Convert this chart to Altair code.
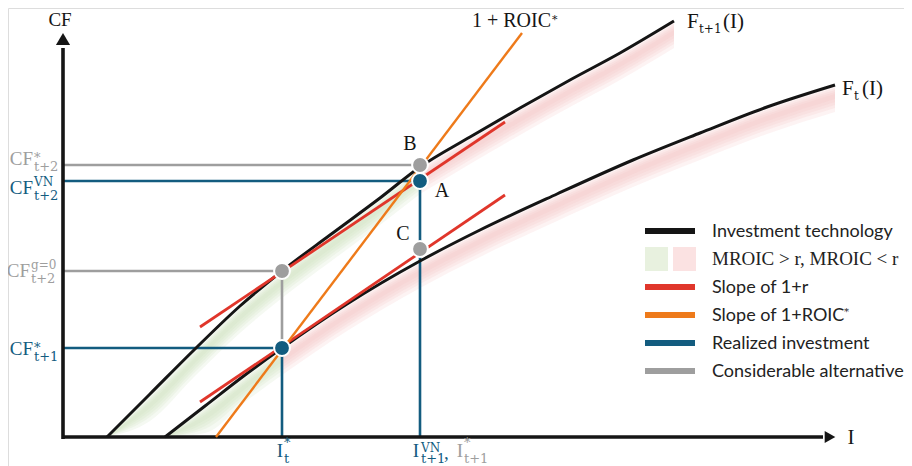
import altair as alt
import pandas as pd

# ---------------- data (I, CF), origin at the axes corner -------------
# investment technology F_{t+1}(I)
F_NEXT_I = [44, 87, 132, 177, 219, 267, 317, 357, 407, 457, 507, 557, 611]
F_NEXT_CF = [0, 43, 88, 131, 166, 202, 239, 270, 300, 329, 357, 384, 416]
# investment technology F_t(I)
F_NOW_I = [102, 142, 182, 219, 284, 357, 417, 494, 570, 637, 704, 772]
F_NOW_CF = [0, 31, 62, 89, 133, 176, 207, 243, 277, 304, 330, 352]

I_T = 219          # I*_t
I_T1 = 357         # I^VN_{t+1}, I*_{t+1}
CF_T1 = 89         # CF*_{t+1}
CF_G0 = 166        # CF^{g=0}_{t+2}
CF_VN = 256        # CF^VN_{t+2}
CF_STAR = 272      # CF*_{t+2}
CF_C = 188         # point C

# slope of 1+r (two lines) and slope of 1+ROIC*
R_UP_I, R_UP_CF = [137, 442], [110, 315]
R_LO_I, R_LO_CF = [137, 442], [35, 242]
ROIC_I, ROIC_CF = [153, 459], [0, 404]

AX_X_END, AX_Y_END = 760, 389

LEGEND_ITEMS = ["Investment technology", "MROIC > r, MROIC < r", "Slope of 1+r",
                "Slope of 1+ROIC", "Realized investment", "Considerable alternative"]

# ---------------- styles ----------------
BLACK = "#151515"
RED = "#e0362b"
ORANGE = "#ee7a1a"
BLUE = "#135c7f"
GRAY = "#9e9e9e"
GREEN_BAND = "#cfe2bc"
PINK_BAND = "#f4c4c4"
SERIF = "Liberation Serif"
SMALL = "DejaVu Serif"
SANS = "Lato"

X = alt.X("I:Q", scale=alt.Scale(domain=[-55, 841], nice=False, zero=False), axis=None)
Y = alt.Y("CF:Q", scale=alt.Scale(domain=[-29, 429], nice=False, zero=False), axis=None)


def seg(i1, cf1, i2, cf2, color, w):
    df = pd.DataFrame({"I": [i1], "CF": [cf1], "I2": [i2], "CF2": [cf2]})
    return alt.Chart(df).mark_rule(color=color, strokeWidth=w, strokeCap="butt").encode(
        x=X, y=Y, x2=alt.X2("I2"), y2=alt.Y2("CF2"))


def curve(xs, ys, color, w):
    df = pd.DataFrame({"I": xs, "CF": ys})
    return alt.Chart(df).mark_line(color=color, strokeWidth=w, interpolate="monotone").encode(x=X, y=Y)


def band(xs, ys, color, a, b, op):
    df = pd.DataFrame({"I": xs, "CF": [max(v - a, 0) for v in ys],
                       "CF2": [max(v - b, 0) for v in ys]})
    return alt.Chart(df).mark_area(color=color, opacity=op, interpolate="monotone").encode(
        x=X, y=Y, y2=alt.Y2("CF2"))


def txt(i, cf, s, size, color, font=SERIF, align="left"):
    df = pd.DataFrame({"I": [i], "CF": [cf]})
    return alt.Chart(df).mark_text(text=s, fontSize=size, color=color, font=font,
                                   align=align, baseline="alphabetic").encode(x=X, y=Y)


def dot(i, cf, color):
    df = pd.DataFrame({"I": [i], "CF": [cf]})
    return alt.Chart(df).mark_circle(size=250, fill=color, stroke="white", strokeWidth=2,
                                     opacity=1, fillOpacity=1).encode(x=X, y=Y)


layers = []

# shaded bands (MROIC > r green, MROIC < r pink), soft edges by nesting
k1 = F_NEXT_I.index(I_T1)
k0 = F_NOW_I.index(I_T)
for xs, ys, col in [(F_NEXT_I[:k1 + 1], F_NEXT_CF[:k1 + 1], GREEN_BAND),
                    (F_NEXT_I[k1:], F_NEXT_CF[k1:], PINK_BAND),
                    (F_NOW_I[:k0 + 1], F_NOW_CF[:k0 + 1], GREEN_BAND),
                    (F_NOW_I[k0:], F_NOW_CF[k0:], PINK_BAND)]:
    for a, b in [(1, 27), (3, 23), (5, 20), (7, 17), (9, 14)]:
        layers.append(band(xs, ys, col, a, b, 0.2))

# guide lines
layers += [
    seg(0, CF_STAR, I_T1, CF_STAR, GRAY, 2.6),
    seg(0, CF_G0, I_T, CF_G0, GRAY, 2.6),
    seg(I_T, CF_T1, I_T, CF_G0, GRAY, 2.6),
    seg(0, CF_VN, I_T1, CF_VN, BLUE, 2.6),
    seg(0, CF_T1, I_T, CF_T1, BLUE, 2.6),
    seg(I_T, 0, I_T, CF_T1, BLUE, 2.6),
    seg(I_T1, 0, I_T1, CF_VN, BLUE, 2.6),
]

# axes with arrows
layers += [
    seg(0, 0, AX_X_END, 0, BLACK, 3.6),
    seg(0, -2, 0, AX_Y_END, BLACK, 3.6),
    alt.Chart(pd.DataFrame({"I": [767], "CF": [0]})).mark_point(
        shape="triangle-right", size=150, filled=True, color=BLACK, opacity=1).encode(x=X, y=Y),
    alt.Chart(pd.DataFrame({"I": [0], "CF": [398]})).mark_point(
        shape="triangle-up", size=200, filled=True, color=BLACK, opacity=1).encode(x=X, y=Y),
]

# technology curves, slopes
layers += [
    curve(F_NEXT_I, F_NEXT_CF, BLACK, 3),
    curve(F_NOW_I, F_NOW_CF, BLACK, 3),
    seg(R_UP_I[0], R_UP_CF[0], R_UP_I[1], R_UP_CF[1], RED, 2.8),
    seg(R_LO_I[0], R_LO_CF[0], R_LO_I[1], R_LO_CF[1], RED, 2.8),
    seg(ROIC_I[0], ROIC_CF[0], ROIC_I[1], ROIC_CF[1], ORANGE, 2.4),
]

# points
layers += [
    dot(I_T, CF_G0, GRAY),
    dot(I_T, CF_T1, BLUE),
    dot(I_T1, CF_C, GRAY),
    dot(I_T1, CF_STAR, GRAY),
    dot(I_T1, CF_VN, BLUE),
]

# axis titles and annotations
layers += [
    txt(-3, 411, "CF", 19, BLACK, align="center"),
    txt(788, -7, "I", 21, BLACK, align="center"),
    txt(409, 410, "1 + ROIC", 20, BLACK),
    txt(489, 414, "*", 11, BLACK, font=SMALL),
    txt(624, 409, "F", 21, BLACK),
    txt(636, 404, "t+1", 12, BLACK, font=SMALL),
    txt(660, 409, "(I)", 21, BLACK),
    txt(779, 342, "F", 21, BLACK),
    txt(791, 337, "t", 12, BLACK, font=SMALL),
    txt(799, 342, "(I)", 21, BLACK),
    txt(347, 287, "B", 20, BLACK, align="center"),
    txt(379, 240, "A", 20, BLACK, align="center"),
    txt(340, 197, "C", 20, BLACK, align="center"),
]


# y labels
def ylab(x_end, base, sup, sub, color, sup_is_star):
    out = [txt(x_end, base, "CF", 19, color, align="right")]
    if sup_is_star:
        out.append(txt(x_end + 1, base + 3, "*", 13, color, font=SMALL))
    else:
        out.append(txt(x_end + 1, base + 8, sup, 12, color, font=SMALL))
    out.append(txt(x_end + 1, base - 6, sub, 13, color, font=SMALL))
    return out


layers += ylab(-30, 272, "*", "t+2", GRAY, True)
layers += ylab(-30, 243, "VN", "t+2", BLUE, False)
layers += ylab(-33, 160, "g=0", "t+2", GRAY, False)
layers += ylab(-30, 82, "*", "t+1", BLUE, True)

# x labels
layers += [
    txt(220, -20, "I", 19, BLUE, align="right"),
    txt(221, -10, "*", 13, BLUE, font=SMALL),
    txt(221, -26, "t", 13, BLUE, font=SMALL),
    txt(356, -20, "I", 19, BLUE, align="right"),
    txt(358, -15, "VN", 12, BLUE, font=SMALL),
    txt(358, -26, "t+1", 13, BLUE, font=SMALL),
    txt(381, -22, ",", 19, BLUE),
    txt(400, -20, "I", 19, GRAY, align="right"),
    txt(401, -10, "*", 13, GRAY, font=SMALL),
    txt(401, -26, "t+1", 13, GRAY, font=SMALL),
]

# legend
LG_X1, LG_X2, LG_TX = 582, 632, 649
leg_rows = [206, 178, 150, 122, 94, 66]
leg_cols = [BLACK, None, RED, ORANGE, BLUE, GRAY]
for row, col in zip(leg_rows, leg_cols):
    if col is not None:
        layers.append(seg(LG_X1, row, LG_X2, row, col, 6))
sw = pd.DataFrame({"I": [582], "CF": [190], "I2": [605], "CF2": [166]})
layers.append(alt.Chart(sw).mark_rect(color="#e8f1df").encode(x=X, y=Y, x2=alt.X2("I2"), y2=alt.Y2("CF2")))
sw2 = pd.DataFrame({"I": [610], "CF": [190], "I2": [633], "CF2": [166]})
layers.append(alt.Chart(sw2).mark_rect(color="#fbe2e2").encode(x=X, y=Y, x2=alt.X2("I2"), y2=alt.Y2("CF2")))
for row, label in zip(leg_rows, LEGEND_ITEMS):
    font = SERIF if "MROIC" in label else SANS
    size = 19 if "MROIC" in label else 18
    layers.append(txt(LG_TX, row - 6, label, size, "#222222", font=font))
layers.append(txt(781, 122, "*", 10, "#222222", font=SMALL))

chart = alt.layer(*layers).properties(
    width=896, height=458, padding=0, autosize=alt.AutoSizeParams(type="none")
).configure_view(stroke=None).configure(background="white")

chart.save("out.html", embed_options={"renderer": "svg", "actions": False})
